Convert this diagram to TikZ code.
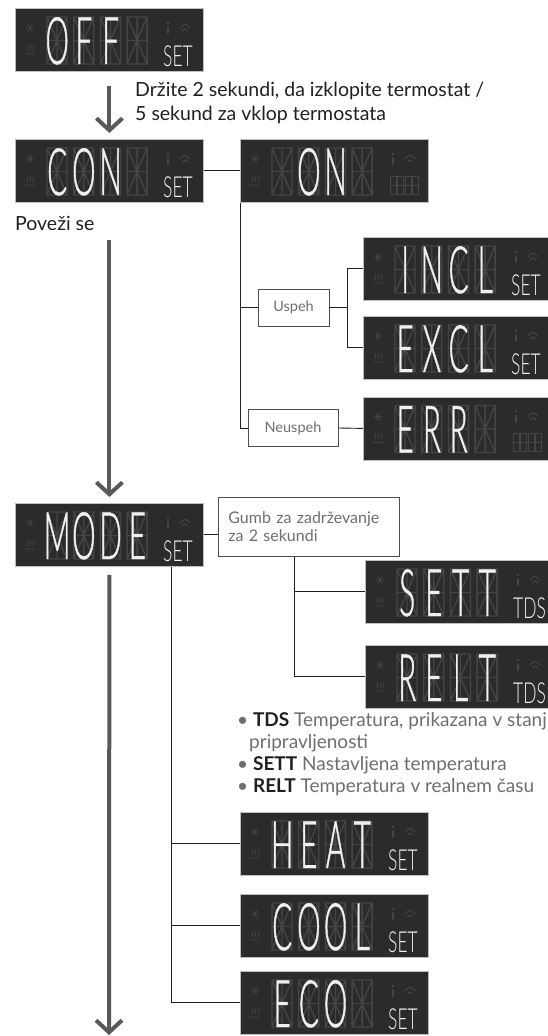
\documentclass[tikz,border=0pt]{standalone}
\usepackage{fontspec}
\setmainfont{Lato}
\newfontfamily\lcdfont{Lato}[UprightFont=* Light, FakeStretch=0.45, FakeBold=0.6]
\newfontfamily\lcdtag{Lato}[UprightFont=* Light, FakeStretch=0.6]
\usepackage{tikz}
\usetikzlibrary{arrows.meta,calc}

\definecolor{lcdbg}{HTML}{2B2B2B}
\definecolor{lcdrim}{HTML}{BCBEC0}
\definecolor{lcdseg}{HTML}{454545}
\definecolor{lcdlit}{HTML}{F0F0F0}
\definecolor{inkdark}{HTML}{231F20}
\definecolor{inkgray}{HTML}{6D6E71}
\definecolor{flowgray}{HTML}{58595B}

% one letter per display cell
\newcommand\cells[1]{\cellsloop#1\relax}
\def\cellsloop#1{\ifx#1\relax\else\makebox[26.7pt][c]{#1}\expandafter\cellsloop\fi}

\begin{document}
\begin{tikzpicture}[x=1pt, y=-1pt,
lcd/.style={draw=lcdrim, line width=0.8pt, fill=lcdbg, minimum width=188pt, minimum height=63pt, anchor=north west, inner sep=0pt},
seg/.style={draw=lcdseg, line width=1.3pt, line cap=round, line join=round},
word/.style={font=\lcdfont\fontsize{65.5}{65.5}\selectfont, text=lcdlit, anchor=base west, inner sep=0pt},
tag/.style={font=\lcdtag\fontsize{29}{29}\selectfont, text=lcdlit, anchor=base west, inner sep=0pt},
note/.style={font=\fontsize{19.5}{24}\selectfont, text=inkdark, align=left, inner sep=0pt},
lbl/.style={draw=inkdark!80, line width=0.7pt, font=\fontsize{14.5}{17}\selectfont, text=inkgray},
listing/.style={font=\fontsize{19}{22}\selectfont, text=inkgray, align=left, inner sep=0pt},
wire/.style={draw=inkdark, line width=0.9pt},
flow/.style={draw=flowgray, line width=4pt, -{Straight Barb[length=12pt,width=26pt]}}]
\useasboundingbox (0,0) rectangle (548,1036);

% displays
\foreach \n/\x/\y/\t/\c/\lab in {off/15/8/OFF/0/SET, con/15/139/CON/0/SET, on/240/139/ON/1/{},
  incl/363/237/INCL/0/SET, excl/363/316/EXCL/0/SET, err/363/396.5/ERR/0/{},
  mode/15/503/MODE/0/SET, sett/365/560/SETT/0/TDS, relt/365/645/RELT/0/TDS,
  heat/240/812/HEAT/0/SET, cool/240/894/COOL/0/SET, eco/240/971/ECO/0/SET}{
  \node[lcd] (\n) at (\x,\y) {};
  \foreach \k in {0,...,3}
    \draw[seg, shift={(\x+32+\k*26.7,\y+9)}] (0,0) rectangle (20,47) (0,23.5) -- (20,23.5) (10,0) -- (10,47)
      (0,0) -- (10,23.5) -- (20,0) (0,47) -- (10,23.5) -- (20,47);
  % icons
  \draw[seg, line width=0.8pt] (\x+15,\y+20) +(-4,0) -- +(4,0) +(-2,-3.5) -- +(2,3.5) +(-2,3.5) -- +(2,-3.5);
  \draw[seg, line width=0.8pt] (\x+10,\y+46) -- (\x+20,\y+46) (\x+12,\y+43) -- (\x+13,\y+37) (\x+15,\y+43) -- (\x+16,\y+37) (\x+18,\y+43) -- (\x+19,\y+37);
  \fill[lcdseg] (\x+153,\y+15) circle (1.3);
  \draw[seg, line width=2pt] (\x+153,\y+19) -- (\x+153,\y+25);
  \draw[seg, line width=1pt] (\x+165,\y+20) .. controls (\x+170,\y+15) .. (\x+175,\y+20)
    (\x+167.5,\y+23) .. controls (\x+170,\y+20.5) .. (\x+172.5,\y+23);
  \node[word] (\n-w) at (\x+28.65+\c*26.7,\y+56) {\expandafter\cells\expandafter{\t}};
  \node[tag] (\n-t) at (\x+148,\y+58) {\lab};
}
\foreach \d in {on,err}
  \foreach \k in {0,...,3}
    \draw[seg, line width=0.8pt, shift={($(\d.north west)+(150+\k*7.5,37)$)}] (0,0) rectangle (6,18) (0,9) -- (6,9);

% texts
\node[note, anchor=north west] (hold) at (135,82) {Držite 2 sekundi, da izklopite termostat /\\5 sekund za vklop termostata};
\node[note, anchor=base west] (connect) at (15,230) {Poveži se};
\node[lbl, minimum width=71pt, minimum height=37pt] (uspeh) at (293.5,307.5) {Uspeh};
\node[lbl, minimum width=90pt, minimum height=37pt] (neuspeh) at (293,428) {Neuspeh};
\node[lbl, anchor=north west, text width=161pt, align=left, minimum height=59pt, inner xsep=10pt, font=\fontsize{16}{18}\selectfont] (press) at (218,497) {Gumb za zadrževanje\\za 2 sekundi};
\node[listing, anchor=north west] (notes) at (237,712) {\textbullet\ \textcolor{inkdark}{\textbf{TDS}} Temperatura, prikazana v stanju\\
\hspace*{12pt}pripravljenosti\\
\textbullet\ \textcolor{inkdark}{\textbf{SETT}} Nastavljena temperatura\\
\textbullet\ \textcolor{inkdark}{\textbf{RELT}} Temperatura v realnem času};

% main flow
\coordinate (end) at (109,1035);
\draw[flow] ([yshift=-14pt]off.south) -- ([yshift=6pt]con.north);
\draw[flow] ([yshift=-37pt]con.south) -- ([yshift=6pt]mode.north);
\draw[flow] ([yshift=-8pt]mode.south) -- (end);

% branches
\draw[wire] (con.east) -- (on.west);
\draw[wire] (on.south west) |- (neuspeh.west);
\draw[wire] (on.south west |- uspeh.west) -- (uspeh.west);
\draw[wire] (uspeh.east) -- ++(18,0) coordinate (fork);
\draw[wire] (incl.west) -| (fork) |- (excl.west);
\draw[wire] (neuspeh.east) -- (err.west);
\draw[wire] (mode.east) -- (mode.east -| press.west);
\draw[wire] ([xshift=76pt]press.south west) |- (sett.west);
\draw[wire] ([xshift=76pt]press.south west) |- (relt.west);
\draw[wire] ([xshift=156pt]mode.south west) |- (heat.west);
\draw[wire] ([xshift=156pt]mode.south west) |- (cool.west);
\draw[wire] ([xshift=156pt]mode.south west) |- (eco.west);
\end{tikzpicture}
\end{document}
